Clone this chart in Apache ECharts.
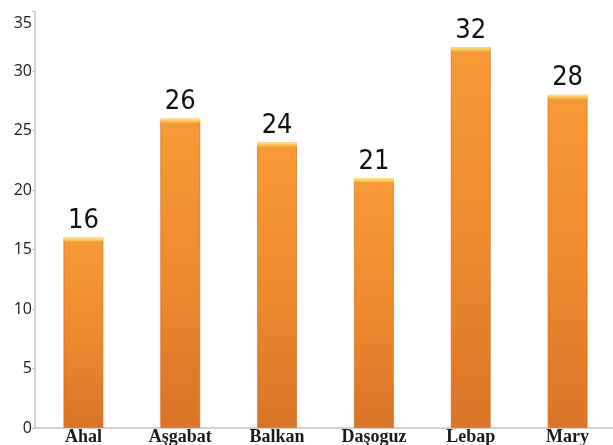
<!DOCTYPE html>
<html>
<head>
<meta charset="utf-8">
<script src="https://cdn.jsdelivr.net/npm/echarts@6/dist/echarts.min.js"></script>
<style>
  html, body { margin: 0; padding: 0; background: #fff; }
  #chart { width: 613px; height: 445px; }
</style>
</head>
<body>
<div id="chart"></div>
<script>
// welaýat names and values
const regions = ['Ahal', 'Aşgabat', 'Balkan', 'Daşoguz', 'Lebap', 'Mary'];
const counts = [16, 26, 24, 21, 32, 28];
const yTicks = { min: 0, max: 35, step: 5 };

const chart = echarts.init(document.getElementById('chart'));

let option = {
  backgroundColor: '#fff',
  animation: false,
  grid: {
    left: 35,
    right: -3,
    top: 11.5,
    bottom: 17,
    containLabel: false,
    outerBoundsMode: 'none'
  },
  xAxis: [{
    type: 'category',
    data: regions,
    axisLine: { lineStyle: { color: '#c4c4c4', width: 1.5 } },
    axisTick: { length: 5, lineStyle: { color: '#c4c4c4' } },
    axisLabel: {
      margin: 0,
      color: '#1a1a1a',
      fontFamily: '"Liberation Serif", "DejaVu Serif", serif',
      fontWeight: 'bold',
      fontSize: 18,
      lineHeight: 18
    }
  }],
  yAxis: [{
    type: 'value',
    min: yTicks.min,
    max: yTicks.max,
    interval: yTicks.step,
    splitLine: { show: false },
    axisLine: { show: true, lineStyle: { color: '#c4c4c4', width: 1.5 } },
    axisTick: { show: true, length: 3, lineStyle: { color: '#c4c4c4' } },
    axisLabel: {
      margin: 3,
      color: '#1a1a1a',
      fontFamily: '"Open Sans", sans-serif',
      fontSize: 16,
      formatter: function (v) {
        return v === yTicks.max ? '{top|' + v + '}' : String(v);
      },
      rich: {
        top: { padding: [24, 0, 0, 0], fontFamily: '"Open Sans", sans-serif', fontSize: 16, color: '#1a1a1a' }
      }
    }
  }],
  series: [{
    name: 'bars',
    type: 'bar',
    barWidth: 40,
    z: 2,
    itemStyle: {
      color: new echarts.graphic.LinearGradient(0, 0, 0, 1, [
        { offset: 0, color: '#f89a35' },
        { offset: 0.5, color: '#ee8a2e' },
        { offset: 1, color: '#db7428' }
      ]),
      borderColor: 'rgba(205,110,35,0.7)',
      borderWidth: 1
    },
    label: {
      show: true,
      position: 'top',
      distance: 3,
      color: '#111',
      fontSize: 27,
      fontFamily: '"Liberation Sans Narrow", "DejaVu Sans Condensed", sans-serif'
    },
    data: counts
  }, {
    name: 'cap',
    type: 'pictorialBar',
    symbol: 'rect',
    symbolSize: [40, 4],
    symbolPosition: 'end',
    z: 3,
    itemStyle: {
      color: new echarts.graphic.LinearGradient(0, 0, 0, 1, [
        { offset: 0, color: '#fde58a' },
        { offset: 1, color: '#f7b443' }
      ])
    },
    silent: true,
    data: counts
  }]
};

chart.setOption(option);
</script>
</body>
</html>
